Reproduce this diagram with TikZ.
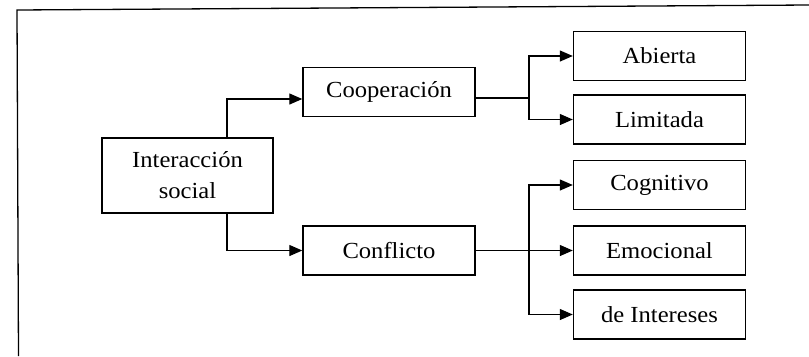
\documentclass[tikz,border=0pt]{standalone}
\usepackage{fontspec}
\setmainfont{Liberation Serif}[FakeStretch=1.07]
\usetikzlibrary{arrows.meta}

\tikzset{
  box/.style={draw, line width=1.4bp, minimum width=172bp, minimum height=49bp,
              inner sep=0pt, align=center,
              font=\fontsize{23bp}{31bp}\selectfont},
  link/.style={line width=1.2bp},
  arr/.style={link, -{Triangle[length=13bp,width=11bp]}},
  frame/.style={line width=1.3bp}
}

\begin{document}
\begin{tikzpicture}[x=1bp, y=1bp]
  \useasboundingbox (0,0) rectangle (809,-356);

  % partial outer frame (left and top edges)
  \draw[frame] (18.5,-356) -- (17,-10) -- (809,-5);

  % root
  \node[box, minimum width=171bp, minimum height=75bp] (root) at (187.5,-175.5)
       {Interacción\\social};

  % second level
  \node[box] (coop) at (389,-92)    {Cooperación};
  \node[box] (conf) at (389,-250.5) {Conflicto};

  % third level
  \node[box] (abierta)   at (659.5,-56)    {Abierta};
  \node[box] (limitada)  at (659.5,-119.5) {Limitada};
  \node[box] (cognitivo) at (659.5,-185)   {Cognitivo};
  \node[box] (emocional) at (659.5,-250.5) {Emocional};
  \node[box] (intereses) at (659.5,-314.5) {de Intereses};

  % vertical branch lines
  \coordinate (jl) at (227,0);
  \coordinate (jr) at (529,0);

  % root to second level
  \draw[arr] (root.north -| jl) |- ([yshift=-7bp]coop.west);
  \draw[arr] (root.south -| jl) |- (conf.west);

  % cooperation branch
  \draw[link] ([yshift=-6bp]coop.east) -- ([yshift=-6bp]coop.east -| jr);
  \draw[arr] ([yshift=-6bp]coop.east -| jr) |- (abierta.west);
  \draw[arr] ([yshift=-6bp]coop.east -| jr) |- (limitada.west);

  % conflict branch
  \draw[arr] (conf.east) -- (emocional.west);
  \draw[arr] (conf.east -| jr) |- (cognitivo.west);
  \draw[arr] (conf.east -| jr) |- (intereses.west);
\end{tikzpicture}
\end{document}
